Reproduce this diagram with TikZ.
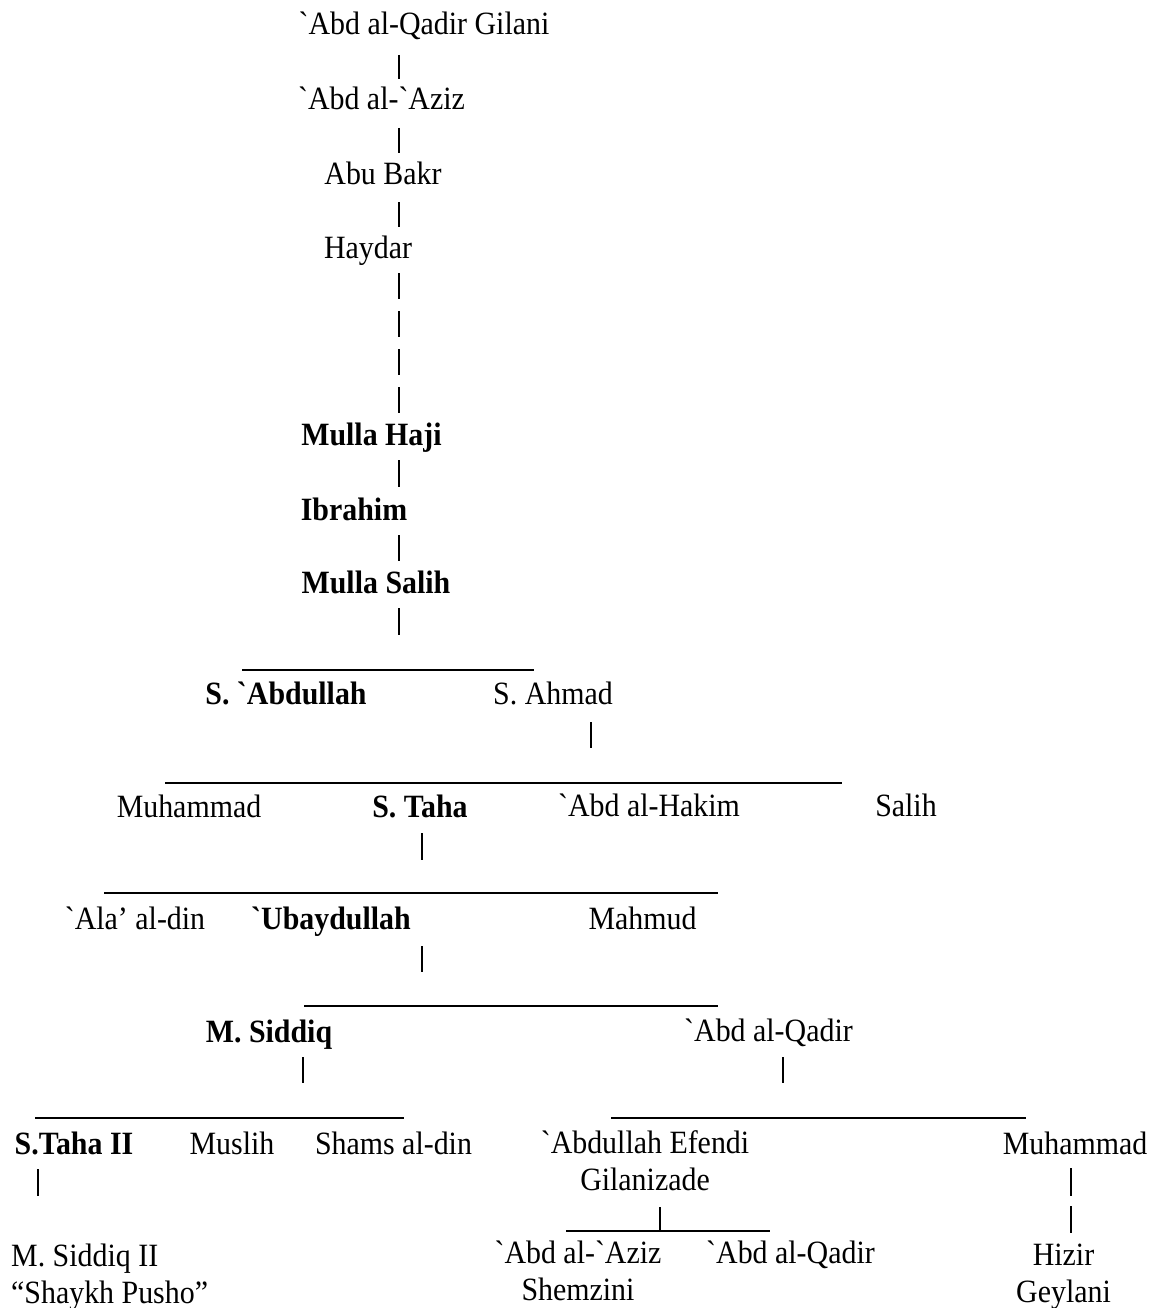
\documentclass[tikz,border=0pt]{standalone}
\usepackage{fontspec}
\setmainfont{Liberation Serif}[FakeStretch=0.92,Ligatures=TeXOff]
\usetikzlibrary{calc}
\begin{document}
\begin{tikzpicture}[x=1pt,y=-1pt,
  pers/.style={anchor=base,inner sep=0pt,font=\fontsize{32.5}{37}\selectfont},
  bpers/.style={pers,font=\fontsize{32.5}{37}\selectfont\bfseries},
  multi/.style={pers,anchor=north,align=center},
  link/.style={line width=1.5pt,black},
  gapA/.style={link,dash pattern=on 26pt off 12pt},
  gapB/.style={link,dash pattern=on 28pt off 10pt}]
\useasboundingbox (0,0) rectangle (1154,1308);
\fill[white] (0,0) rectangle (1154,1308);

% ---- people ----
\node[pers]  (n1)  at (424,35)    {`Abd al-Qadir Gilani};
\node[pers]  (n2)  at (381.5,110) {`Abd al-`Aziz};
\node[pers]  (n3)  at (383,185)   {Abu Bakr};
\node[pers]  (n4)  at (368,258)   {Haydar};
\node[bpers] (n5)  at (371.5,445) {Mulla Haji};
\node[bpers] (n6)  at (354,520)   {Ibrahim};
\node[bpers] (n7)  at (376,593)   {Mulla Salih};
\node[bpers] (nAb) at (286,704)   {S. `Abdullah};
\node[pers]  (nAh) at (553,704)   {S. Ahmad};
\node[pers]  (nMu1) at (189,817)  {Muhammad};
\node[bpers] (nTa) at (420,817)   {S. Taha};
\node[pers]  (nHa) at (649,816)   {`Abd al-Hakim};
\node[pers]  (nSa) at (906,816)   {Salih};
\node[pers]  (nAl) at (135,929)   {`Ala’ al-din};
\node[bpers] (nUb) at (331,929)   {`Ubaydullah};
\node[pers]  (nMa) at (642.5,929) {Mahmud};
\node[bpers] (nMS) at (269,1042)  {M. Siddiq};
\node[pers]  (nAQ) at (768.5,1041) {`Abd al-Qadir};
\node[bpers] (nT2) at (74,1154)   {S.Taha II};
\node[pers]  (nMl) at (232,1154)  {Muslih};
\node[pers]  (nSh) at (393.5,1154) {Shams al-din};
\node[multi] (nAE) at (645,1127)  {\strut`Abdullah Efendi\\Gilanizade};
\node[pers]  (nMu2) at (1075,1154) {Muhammad};
\node[multi,anchor=north west,align=left] (nMS2) at (11,1240) {\strut M. Siddiq II\\“Shaykh Pusho”};
\node[multi] (nAAz) at (578,1237) {\strut`Abd al-`Aziz\\Shemzini};
\node[pers]  (nAQ2) at (790.5,1263) {`Abd al-Qadir};
\node[multi] (nHz) at (1063.5,1239) {\strut Hizir\\Geylani};

% ---- bus lines ----
\coordinate (sp) at (399,0);
\coordinate (L1a) at (242,670);  \coordinate (L1b) at (534,670);
\coordinate (L2a) at (165,783);  \coordinate (L2b) at (842,783);
\coordinate (L3a) at (104,893);  \coordinate (L3b) at (718,893);
\coordinate (L4a) at (304,1006); \coordinate (L4b) at (718,1006);
\coordinate (L5a) at (35,1118);  \coordinate (L5b) at (404,1118);
\coordinate (L6a) at (611,1118); \coordinate (L6b) at (1026,1118);
\coordinate (L7a) at (566,1231); \coordinate (L7b) at (770,1231);
\foreach \p in {L1,L2,L3,L4,L5,L6,L7} \draw[link] (\p a) -- (\p b);

% ---- vertical connectors ----
\draw[link] ($(n1.base-|sp)+(0,20)$) -- ($(n2.base-|sp)+(0,-31)$);
\draw[link] ($(n2.base-|sp)+(0,18)$) -- ($(n3.base-|sp)+(0,-32)$);
\draw[link] ($(n3.base-|sp)+(0,17)$) -- ($(n4.base-|sp)+(0,-31)$);
\draw[gapA] ($(n4.base-|sp)+(0,15)$) -- ($(n5.base-|sp)+(0,-32)$);
\draw[link] ($(n5.base-|sp)+(0,15)$) -- ($(n6.base-|sp)+(0,-33)$);
\draw[link] ($(n6.base-|sp)+(0,15)$) -- ($(n7.base-|sp)+(0,-32)$);
\draw[link] ($(n7.base-|sp)+(0,15)$) -- ($(L1a-|sp)+(0,-35)$);
\draw[link] ($(nAh.base)+(38,18)$) -- ($(nAh.base)+(38,44)$);
\draw[link] ($(nTa.base)+(2,16)$) -- ($(nTa.base)+(2,43)$);
\draw[link] ($(nUb.base)+(91,17)$) -- ($(nUb.base)+(91,43)$);
\draw[link] ($(nMS.base)+(34,15)$) -- ($(nMS.base)+(34,41)$);
\draw[link] ($(nAQ.base)+(14.5,16)$) -- ($(nAQ.base)+(14.5,42)$);
\draw[link] ($(nT2.base)+(-36,15)$) -- ($(nT2.base)+(-36,42)$);
\draw[link] ($(nAE.north)+(15,80)$) -- ($(nAE.north)+(15,105)$);
\draw[gapB] ($(nMu2.base)+(-4,14)$) -- ($(nMu2.base)+(-4,79)$);
\end{tikzpicture}
\end{document}
